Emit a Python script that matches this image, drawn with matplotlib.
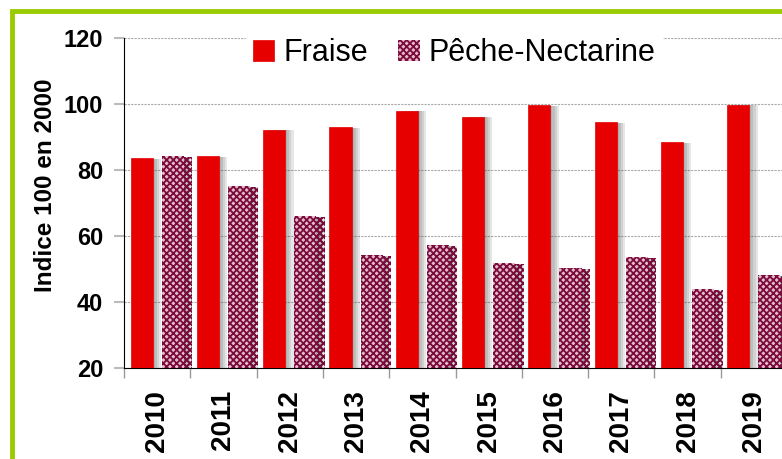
import numpy as np
import matplotlib
matplotlib.use('Agg')
import matplotlib.pyplot as plt
import matplotlib.patheffects as pe
from matplotlib.patches import Rectangle

plt.rcParams['font.family'] = ['Liberation Sans', 'DejaVu Sans']
plt.rcParams['hatch.linewidth'] = 1.3

years = ['2010', '2011', '2012', '2013', '2014', '2015', '2016', '2017', '2018', '2019']
fraise = [83.6, 84.2, 92.2, 93.0, 98.0, 96.2, 99.6, 94.4, 88.4, 99.8]
peche = [84.3, 75.2, 66.0, 54.3, 57.3, 51.7, 50.3, 53.5, 43.8, 48.1]

fig = plt.figure(figsize=(7.82, 4.59), dpi=100)
ax = fig.add_axes([124 / 782, 91 / 459, 663 / 782, 330 / 459])

# green frame around the chart
fig.patches.append(Rectangle((12 / 782, -0.1), 1.2, 0.1 + 448 / 459, transform=fig.transFigure,
                             fill=False, edgecolor='#99cc00', linewidth=3.5, zorder=0))

X = np.arange(len(years))
width = 0.333
# soft grey shadow on the right of each bar
shadow = [pe.SimplePatchShadow(offset=(o, -0.5), shadow_rgbFace='#444444', alpha=0.13)
          for o in (1.5, 3, 4.5, 6)] + [pe.Normal()]
b1 = ax.bar(X - 0.235, np.array(fraise) - 20, bottom=20, width=width, color='#e60000',
            edgecolor='#e60000', linewidth=0.5, label='Fraise', zorder=3)
b2 = ax.bar(X + 0.235, np.array(peche) - 20, bottom=20, width=width, color='#e6bccd',
            edgecolor='#7a0a3a', hatch='xxxxx', linewidth=0, label='Pêche-Nectarine', zorder=3)
for p in list(b1) + list(b2):
    p.set_path_effects(shadow)

ax.set_xlim(-0.5, 9.5)
ax.set_ylim(20, 120)
ax.set_yticks(np.arange(20, 121, 20))
ax.set_yticklabels([str(v) for v in range(20, 121, 20)], fontweight='bold', fontsize=17)
ax.yaxis.grid(True, linestyle=(0, (2, 1)), color='#aaaaaa', linewidth=0.8, zorder=0)
ax.set_axisbelow(True)

ax.set_xticks(X)
ax.set_xticklabels(years, rotation=90, fontweight='bold', fontsize=20)
ax.set_xticks(np.arange(-0.5, 10, 1), minor=True)
ax.tick_params(axis='x', which='major', length=0, pad=16)
ax.tick_params(axis='x', which='minor', length=7, color='#999999', width=1)
ax.tick_params(axis='y', length=7, color='#bbbbbb', width=1.5, pad=8)

ax.spines['top'].set_visible(False)
ax.spines['right'].set_visible(False)
ax.spines['left'].set_color('black')
ax.spines['bottom'].set_color('black')

ax.set_ylabel('Indice 100 en 2000', fontweight='bold', fontsize=17.5)
ax.yaxis.set_label_coords(-0.101, 0.555)

leg = ax.legend(loc='upper center', bbox_to_anchor=(0.498, 1.065), ncol=2, fontsize=22,
                frameon=True, framealpha=1, edgecolor='white', fancybox=False,
                handlelength=0.7, handleheight=0.7, handletextpad=0.3, columnspacing=1.0,
                borderpad=0.2)
for h in leg.legend_handles:
    h.set_path_effects([])

plt.savefig('out.png', dpi=100)
plt.close()
